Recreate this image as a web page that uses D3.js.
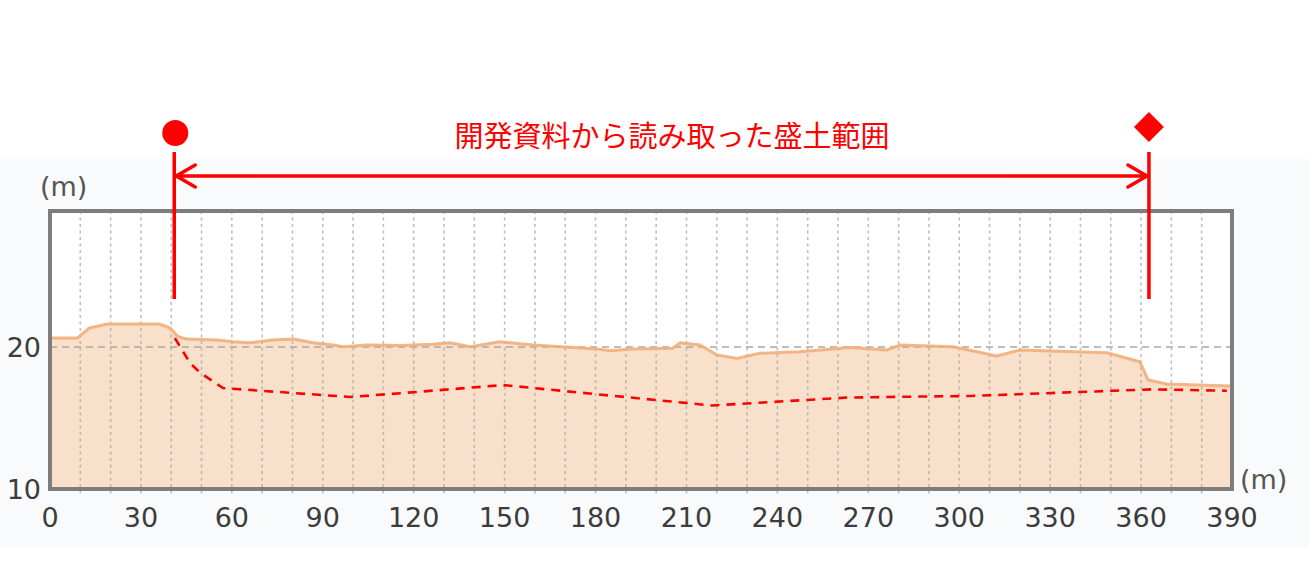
<!DOCTYPE html>
<html>
<head>
<meta charset="utf-8">
<script src="https://cdn.jsdelivr.net/npm/d3@7"></script>
<style>
  html, body { margin: 0; padding: 0; background: #ffffff; }
  svg { display: block; }
</style>
</head>
<body>
<svg id="chart" width="1313" height="574"></svg>
<script>
// ---------------- DATA ----------------
// Ground elevation profile (distance m, elevation m)
const profileDist = [0, 9, 13, 19, 36, 39.6, 42, 45, 55, 60.4, 66, 73.6, 80.2, 86.8, 93.4, 96.7, 104.6, 115.5, 126.4, 132, 138.6, 148.5, 159.4, 181.5, 184.8, 192.3, 205.5, 207.9, 214.5, 220.1, 226.7, 234.2, 247.4, 264, 276.1, 280.4, 297.9, 305.8, 312.4, 320, 348.7, 359.6, 362.3, 368.5, 389.3, 390];
const profileElev = [20.63, 20.63, 21.34, 21.62, 21.62, 21.34, 20.77, 20.56, 20.49, 20.37, 20.3, 20.49, 20.56, 20.3, 20.14, 20.02, 20.14, 20.1, 20.19, 20.3, 20.02, 20.37, 20.14, 19.84, 19.74, 19.86, 19.91, 20.3, 20.14, 19.44, 19.2, 19.56, 19.67, 19.96, 19.79, 20.14, 20.02, 19.67, 19.37, 19.79, 19.6, 18.96, 17.68, 17.39, 17.25, 17.25];
// Estimated original ground (red dashed)
const origDist = [41.2, 46.2, 49.5, 55, 57.1, 99, 116.5, 149.5, 218.4, 263, 287, 303.5, 363.9, 388.3];
const origElev = [20.63, 18.87, 18.2, 17.4, 17.11, 16.48, 16.76, 17.32, 15.88, 16.44, 16.51, 16.55, 17.02, 16.92];
// Axis ticks
const xTicks = [0, 30, 60, 90, 120, 150, 180, 210, 240, 270, 300, 330, 360, 390];
const yTicks = [10, 20];
const xGrid = d3.range(10, 390, 10);
// Annotation
const rangeStart = 41;     // m
const rangeEnd = 362.6;    // m
const annotationText = "開発資料から読み取った盛土範囲";
const unitLabel = "(m)";

// ---------------- LAYOUT ----------------
const svg = d3.select("#chart");
const plot = { left: 50, right: 1232, top: 211, bottom: 489 };
const x = d3.scaleLinear().domain([0, 390]).range([plot.left, plot.right]);
const y = d3.scaleLinear().domain([10, 29.58]).range([plot.bottom, plot.top]);
const red = "#ff0000";
const textColor = "#3c3c3c";
const font = "'DejaVu Sans', Verdana, sans-serif";

// page background of the original screenshot
svg.append("rect").attr("x", 0).attr("y", 159).attr("width", 1309).attr("height", 388)
  .attr("fill", "#f9fafc");

// plot area
svg.append("rect").attr("x", plot.left).attr("y", plot.top)
  .attr("width", plot.right - plot.left).attr("height", plot.bottom - plot.top)
  .attr("fill", "#ffffff");

const profile = profileDist.map((d, i) => [d, profileElev[i]]);
const orig = origDist.map((d, i) => [d, origElev[i]]);

// area fill
svg.append("path").datum(profile)
  .attr("fill", "#f9e0cb")
  .attr("d", d3.area().x(d => x(d[0])).y0(y(10)).y1(d => y(d[1])));

// vertical dotted grid
svg.append("g").selectAll("line").data(xGrid).join("line")
  .attr("x1", d => x(d)).attr("x2", d => x(d))
  .attr("y1", plot.top).attr("y2", plot.bottom + 5)
  .attr("stroke", "#a9a9a9").attr("stroke-width", 1.6)
  .attr("stroke-dasharray", "3,3.5").attr("opacity", 0.75);

// horizontal dashed grid at 20
svg.append("line")
  .attr("x1", plot.left).attr("x2", plot.right)
  .attr("y1", y(20)).attr("y2", y(20))
  .attr("stroke", "#a8a8a8").attr("stroke-width", 1.6)
  .attr("stroke-dasharray", "7,5");

// profile line
svg.append("path").datum(profile)
  .attr("fill", "none").attr("stroke", "#f2ae78").attr("stroke-width", 3)
  .attr("stroke-linejoin", "round").attr("opacity", 0.9)
  .attr("d", d3.line().x(d => x(d[0])).y(d => y(d[1])));

// original ground dashed red
svg.append("path").datum(orig)
  .attr("fill", "none").attr("stroke", red).attr("stroke-width", 2.6)
  .attr("stroke-dasharray", "9,7")
  .attr("d", d3.line().x(d => x(d[0])).y(d => y(d[1])));

// frame
svg.append("rect").attr("x", plot.left).attr("y", plot.top)
  .attr("width", plot.right - plot.left).attr("height", plot.bottom - plot.top)
  .attr("fill", "none").attr("stroke", "#7d7d7d").attr("stroke-width", 4);

// x tick labels
svg.append("g").selectAll("text").data(xTicks).join("text")
  .attr("x", d => x(d)).attr("y", 527)
  .attr("text-anchor", "middle")
  .attr("font-family", font).attr("font-size", 27).attr("fill", textColor)
  .text(d => d);

// y tick labels
svg.append("g").selectAll("text").data(yTicks).join("text")
  .attr("x", 41).attr("y", d => y(d) + 10)
  .attr("text-anchor", "end")
  .attr("font-family", font).attr("font-size", 27).attr("fill", textColor)
  .text(d => d);

// unit labels
svg.append("text").attr("x", 40).attr("y", 196)
  .attr("font-family", font).attr("font-size", 27).attr("fill", "#555555")
  .text(unitLabel);
svg.append("text").attr("x", 1240).attr("y", 489)
  .attr("font-family", font).attr("font-size", 27).attr("fill", "#555555")
  .text(unitLabel);

// ---------------- ANNOTATION ----------------
const xs = x(rangeStart), xe = x(rangeEnd);
const arrowY = 176;
const ann = svg.append("g").attr("stroke", red).attr("fill", "none")
  .attr("stroke-width", 3.5).attr("stroke-linecap", "round");
ann.append("line").attr("x1", xs).attr("x2", xs).attr("y1", 152).attr("y2", 299).attr("stroke-linecap", "butt");
ann.append("line").attr("x1", xe).attr("x2", xe).attr("y1", 152).attr("y2", 299).attr("stroke-linecap", "butt");
ann.append("line").attr("x1", xs + 2).attr("x2", xe - 2).attr("y1", arrowY).attr("y2", arrowY);
ann.append("path").attr("d", `M${xs + 21},${arrowY - 11} L${xs + 2},${arrowY} L${xs + 21},${arrowY + 11}`)
  .attr("stroke-linejoin", "miter");
ann.append("path").attr("d", `M${xe - 21},${arrowY - 11} L${xe - 2},${arrowY} L${xe - 21},${arrowY + 11}`)
  .attr("stroke-linejoin", "miter");

svg.append("circle").attr("cx", xs + 1).attr("cy", 133).attr("r", 13).attr("fill", red);
svg.append("path")
  .attr("d", `M${xe},${112} L${xe + 15},${127} L${xe},${142} L${xe - 15},${127} Z`)
  .attr("fill", red);

svg.append("text").attr("x", 672).attr("y", 147)
  .attr("text-anchor", "middle")
  .attr("font-family", "'Noto Sans CJK JP', sans-serif")
  .attr("font-size", 29).attr("fill", red)
  .text(annotationText);
</script>
</body>
</html>
